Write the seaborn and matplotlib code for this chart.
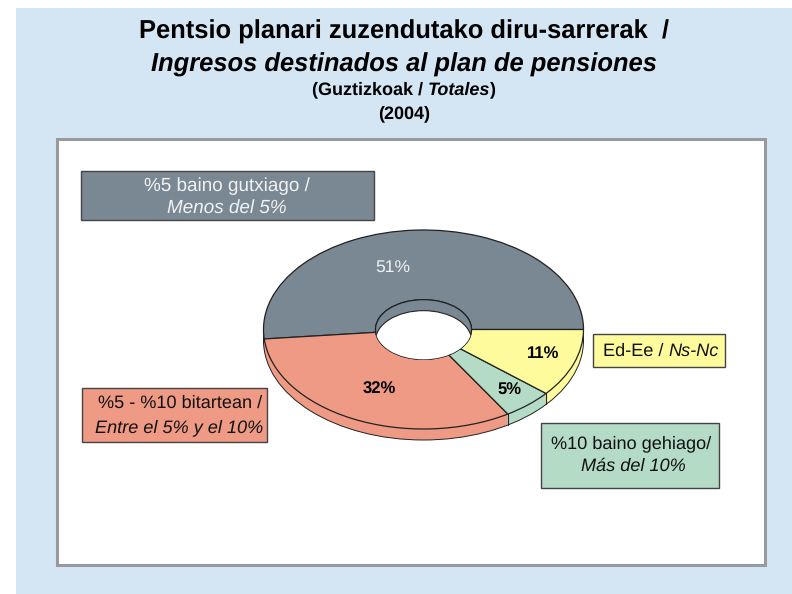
"""Pie of pension plan income share, 2004."""

import matplotlib

matplotlib.use("Agg")
import matplotlib.pyplot as plt
import numpy as np
import seaborn as sns
from matplotlib.patches import Ellipse, Rectangle

# Data
categories = ["%5 baino gutxiago", "%5 - %10 bitartean", "%10 baino gehiago", "Ed-Ee"]
shares = [51, 32, 5, 11]
share_labels = ["51%", "32%", "5%", "11%"]
slice_colors = ["#7A8894", "#EE9A84", "#B3DBC6", "#FDFB9B"]

title_eu = "Pentsio planari zuzendutako diru-sarrerak  /"
title_es = "Ingresos destinados al plan de pensiones"
year_label = "(2004)"

sns.set_theme(style="white")
plt.rcParams["font.family"] = ["Liberation Sans", "DejaVu Sans"]
plt.rcParams["text.hinting"] = "none"

palette = sns.color_palette(slice_colors)
W, H = 792, 594
DARK = "#222222"


def mixed_text(ax, xc, y, runs, **kw):
    """Centre a line of text made of (string, style) runs."""
    rend = ax.figure.canvas.get_renderer()
    inv = ax.transData.inverted()
    items = [ax.text(0, y, s, style=st, va="center", ha="left", **kw) for s, st in runs]
    widths = []
    for t in items:
        bb = t.get_window_extent(rend)
        widths.append(inv.transform((bb.x1, 0))[0] - inv.transform((bb.x0, 0))[0])
    x = xc - sum(widths) / 2
    for t, w in zip(items, widths):
        t.set_x(x)
        x += w


fig = plt.figure(figsize=(W / 100, H / 100), dpi=100, facecolor="white")

# Background in pixel coordinates
bg = fig.add_axes([0, 0, 1, 1], zorder=0)
bg.set_xlim(0, W)
bg.set_ylim(H, 0)
bg.axis("off")
bg.add_patch(Rectangle((16, 8), W - 16, H - 8, fc="#D4E6F4", ec="none"))
bg.add_patch(Rectangle((56.5, 138.5), 708, 426, fc="white", ec="#9A9A9C", lw=2.2))

# Pie axes: 160 px per unit in x, 99.5 px per unit in y
RX, RY = 160, 99.5
CX, CY = 423.5, 329.5
DEPTH = 11 / RY
HOLE = 0.3
pie_ax = fig.add_axes(
    [(CX - 1.25 * RX) / W, (H - CY - 1.25 * RY) / H, 2.5 * RX / W, 2.5 * RY / H],
    zorder=1,
)

# Side wall: same slices stacked downwards
for off in np.linspace(DEPTH, 0, 12)[:-1]:
    pie_ax.pie(shares, colors=palette, startangle=0, center=(0, -off), radius=1,
               wedgeprops={"width": 1 - HOLE, "linewidth": 0})

pie_ax.add_patch(Ellipse((0, -DEPTH), 2, 2, fc="none", ec=DARK, lw=0.7))

# Top face
pie_ax.pie(shares, colors=palette, startangle=0, radius=1,
           wedgeprops={"width": 1 - HOLE, "linewidth": 0.9, "edgecolor": DARK})

# Wall seams at the front slice boundaries
bounds = np.cumsum(shares)[:-1] / sum(shares) * 2 * np.pi
for b in bounds:
    if np.sin(b) < 0 and np.cos(b) > 0:
        pie_ax.plot([np.cos(b)] * 2, [np.sin(b), np.sin(b) - DEPTH], color=DARK, lw=0.8)

# Hole with its inner wall
pie_ax.add_patch(Ellipse((0, 0), 2 * HOLE, 2 * HOLE, fc=palette[0], ec=DARK, lw=0.9, zorder=3))
hole_clip = Ellipse((0, 0), 2 * HOLE, 2 * HOLE, transform=pie_ax.transData)
through = Ellipse((0, -DEPTH), 2 * HOLE, 2 * HOLE, fc="white", ec=DARK, lw=0.8, zorder=4)
pie_ax.add_patch(through)
through.set_clip_path(hole_clip)

pie_ax.set_aspect("auto")
pie_ax.set_xlim(-1.25, 1.25)
pie_ax.set_ylim(-1.25, 1.25)
pie_ax.axis("off")

# Overlay for text and label boxes
top = fig.add_axes([0, 0, 1, 1], zorder=2)
top.set_xlim(0, W)
top.set_ylim(H, 0)
top.axis("off")
top.patch.set_alpha(0)
fig.canvas.draw()

top.text(404, 32, title_eu, ha="center", va="center", fontsize=18.4, fontweight="bold", color="black")
top.text(404, 65, title_es, ha="center", va="center", fontsize=18.4, fontweight="bold", style="italic", color="black")
mixed_text(top, 404, 90, [("(Guztizkoak / ", "normal"), ("Totales", "italic"), (")", "normal")],
           fontsize=13, fontweight="bold", color="black")
top.text(404, 114, year_label, ha="center", va="center", fontsize=13, fontweight="bold", color="black")

# Percent labels
top.text(393, 267, share_labels[0], ha="center", va="center", fontsize=12.6, color="#F2F2F2")
top.text(379, 389, share_labels[1], ha="center", va="center", fontsize=12, fontweight="bold", color="black")
top.text(509, 390, share_labels[2], ha="center", va="center", fontsize=12, fontweight="bold", color="black")
top.text(543, 353, share_labels[3], ha="center", va="center", fontsize=12, fontweight="bold", color="black")

# Label boxes
box_kw = {"ec": "#444444", "lw": 1.0}
top.add_patch(Rectangle((80.5, 170.5), 293, 49, fc=palette[0], **box_kw))
top.add_patch(Rectangle((82, 388), 185, 54, fc=palette[1], **box_kw))
top.add_patch(Rectangle((541, 423), 178, 65, fc=palette[2], **box_kw))
top.add_patch(Rectangle((593, 334), 132, 33, fc=palette[3], **box_kw))

LAB = 13.1
top.text(227, 186, "%5 baino gutxiago /", ha="center", va="center", fontsize=13.6, color="#F2F2F2")
top.text(227, 208, "Menos del 5%", ha="center", va="center", fontsize=13.6, style="italic", color="#F2F2F2")
top.text(180, 403.5, "%5 - %10 bitartean /", ha="center", va="center", fontsize=LAB, color="#111111")
top.text(179.5, 428, "Entre el 5% y el 10%", ha="center", va="center", fontsize=LAB, style="italic", color="#111111")
top.text(631, 443.5, "%10 baino gehiago/", ha="center", va="center", fontsize=LAB, color="#111111")
top.text(633, 466, "Más del 10%", ha="center", va="center", fontsize=LAB, style="italic", color="#111111")
mixed_text(top, 660.5, 351.5, [("Ed-Ee / ", "normal"), ("Ns-Nc", "italic")], fontsize=LAB, color="#111111")

fig.savefig("out.png", dpi=100)
